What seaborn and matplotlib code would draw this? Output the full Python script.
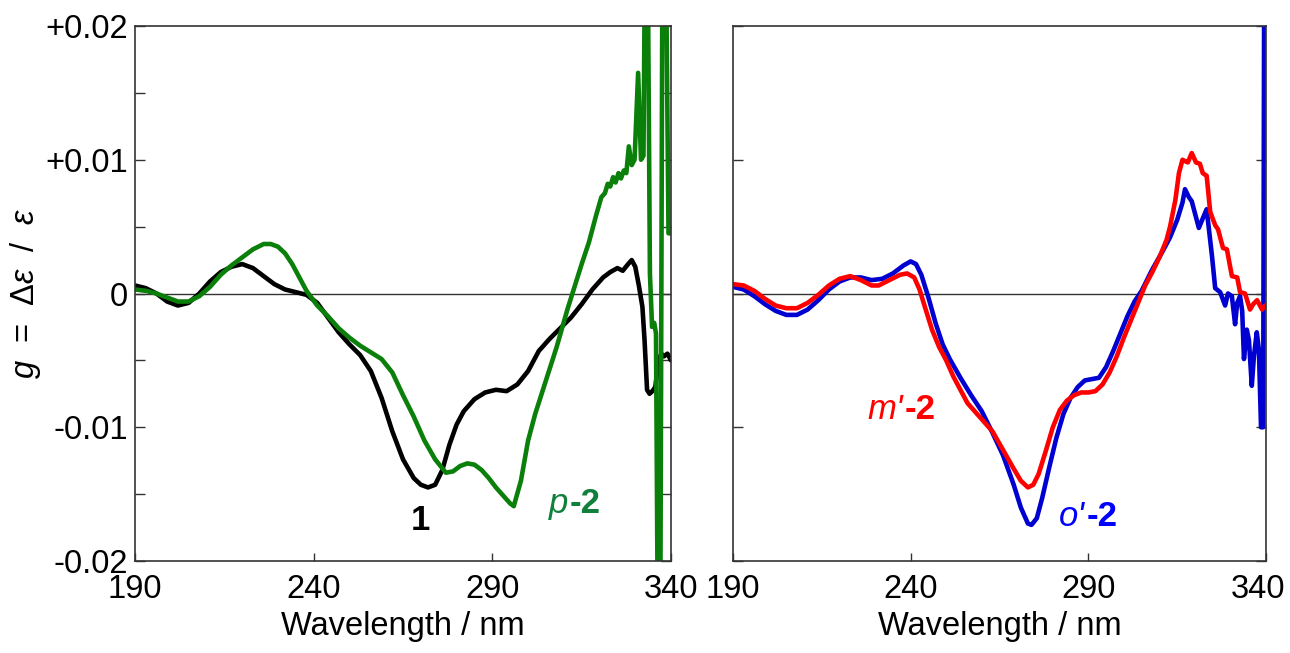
import numpy as np
import pandas as pd
import matplotlib
matplotlib.use("Agg")
import matplotlib.pyplot as plt
import matplotlib.transforms as mtransforms
import seaborn as sns
from matplotlib.offsetbox import TextArea, HPacker, AnnotationBbox

# ---------------- data ----------------
wl_1 = [190, 193, 196, 199, 202, 205, 208, 211, 214, 217, 220, 223, 226, 229, 232, 235, 238,
        241, 244, 247, 250, 253, 256, 259, 262, 265, 268, 270, 272, 274, 276, 278, 280, 282,
        285, 288, 291, 294, 297, 300, 303, 306, 309, 312, 315, 318, 321, 323, 325, 326.5, 328,
        329, 330, 331, 332, 332.6, 333.3, 334, 334.8, 335.6, 336.5, 337.3, 338, 339, 340]
g_1 = [0.0006, 0.0004, 0.0000, -0.0006, -0.0009, -0.0007, 0.0000, 0.0009, 0.0016, 0.0020,
       0.0022, 0.0019, 0.0013, 0.0007, 0.0003, 0.0001, -0.0001, -0.0007, -0.0018, -0.0029,
       -0.0038, -0.0046, -0.0058, -0.0078, -0.0103, -0.0124, -0.0138, -0.0143, -0.0145,
       -0.0143, -0.0132, -0.0113, -0.0098, -0.0088, -0.0079, -0.0074, -0.0072, -0.0073,
       -0.0068, -0.0058, -0.0043, -0.0034, -0.0026, -0.0018, -0.0008, 0.0003, 0.0012,
       0.0016, 0.0019, 0.0017, 0.0022, 0.0025, 0.0020, 0.0006, -0.0010, -0.0035, -0.0072,
       -0.0075, -0.0073, -0.0070, -0.0050, -0.0045, -0.0047, -0.0045, -0.0050]

wl_p2 = [190, 193, 196, 199, 202, 205, 208, 211, 214, 217, 220, 223, 226, 228, 230, 232, 234,
         236, 238, 241, 244, 247, 250, 253, 256, 259, 262, 265, 268, 271, 274, 277, 279, 281,
         283, 285, 287, 289, 291, 293, 295, 296, 298, 300, 302, 305, 308, 311, 313, 315, 317,
         319, 320.5, 321.5, 322.3, 323, 323.8, 324.5, 325.3, 326, 326.8, 327.5, 328.2, 329,
         329.8, 330.8, 331.6, 332.3, 332.7, 333.5, 334.1, 334.7, 335.3, 335.8, 336.3, 337.0,
         337.6, 338.6, 339.3, 340]
g_p2 = [0.0003, 0.0002, 0.0000, -0.0003, -0.0006, -0.0006, -0.0002, 0.0005, 0.0014, 0.0021,
        0.0027, 0.0033, 0.0037, 0.0037, 0.0035, 0.0030, 0.0022, 0.0012, 0.0002, -0.0009,
        -0.0017, -0.0026, -0.0033, -0.0039, -0.0044, -0.0049, -0.0059, -0.0076, -0.0092,
        -0.0110, -0.0124, -0.0134, -0.0133, -0.0129, -0.0127, -0.0128, -0.0132, -0.0138,
        -0.0145, -0.0151, -0.0157, -0.0159, -0.0140, -0.0110, -0.0090, -0.0065, -0.0040,
        -0.0012, 0.0005, 0.0022, 0.0038, 0.0058, 0.0072, 0.0075, 0.0082, 0.0080, 0.0087,
        0.0083, 0.0090, 0.0086, 0.0092, 0.0090, 0.0110, 0.0096, 0.0100, 0.0165, 0.0100,
        0.0103, 0.0250, 0.0250, 0.0015, -0.0025, -0.0022, -0.0030, -0.0250, -0.0250,
        0.0250, 0.0250, 0.0045, 0.0045]

wl_o2 = [190, 193, 196, 199, 202, 205, 208, 211, 214, 217, 220, 223, 226, 229, 232, 235, 238,
         240, 241.5, 243, 245, 247, 249, 251, 254, 257, 260, 263, 266, 269, 271, 273, 274,
         275.5, 277, 279, 281, 283, 285, 287, 289, 291, 293, 295, 297, 299, 301, 303, 305,
         308, 311, 313, 315, 316.5, 317.2, 318.3, 319.1, 321.1, 322.5, 323.3, 324.8, 325.7,
         327.1, 328.5, 329.3, 330.4, 331.3, 331.9, 332.7, 333.3, 333.8, 334.6, 335.2, 336.0,
         336.6, 337.4, 338.0, 338.6, 339.2, 339.5, 339.9]
g_o2 = [0.0005, 0.0003, -0.0002, -0.0008, -0.0013, -0.0016, -0.0016, -0.0012, -0.0005,
        0.0003, 0.0009, 0.0012, 0.0012, 0.0010, 0.0011, 0.0015, 0.0021, 0.0024, 0.0022,
        0.0014, -0.0003, -0.0022, -0.0038, -0.0049, -0.0063, -0.0076, -0.0088, -0.0104,
        -0.0121, -0.0143, -0.0160, -0.0172, -0.0173, -0.0168, -0.0153, -0.0130, -0.0108,
        -0.0090, -0.0078, -0.0070, -0.0065, -0.0064, -0.0063, -0.0055, -0.0043, -0.0030,
        -0.0017, -0.0006, 0.0002, 0.0018, 0.0032, 0.0042, 0.0055, 0.0068, 0.0078, 0.0072,
        0.0069, 0.0049, 0.0058, 0.0063, 0.0028, 0.0004, 0.0001, -0.0009, 0.0000, -0.0002,
        -0.0023, -0.0007, -0.0002, -0.0013, -0.0049, -0.0027, -0.0035, -0.0069, -0.0047,
        -0.0029, -0.0042, -0.0100, -0.0100, 0.0250, 0.0250]

wl_m2 = [190, 193, 196, 199, 202, 205, 208, 211, 214, 217, 220, 223, 226, 229, 231, 234, 237,
         239, 241, 242.5, 244, 246, 248, 250, 252, 254, 256, 258, 260, 263, 266, 269, 271,
         273, 274.5, 276, 278, 280, 282, 284, 286, 288, 290, 292, 294, 296, 298, 300, 302,
         304, 306, 308, 310, 312, 313, 314.5, 315.5, 316.5, 317.2, 318, 319.1, 320.3, 321.4,
         322.2, 323.3, 324.3, 325.7, 326.5, 327.9, 329, 330.4, 331.9, 332.7, 334.1, 335.5,
         336.4, 337.5, 338.9, 339.7]
g_m2 = [0.0007, 0.0006, 0.0002, -0.0004, -0.0009, -0.0011, -0.0011, -0.0007, -0.0001, 0.0006,
        0.0011, 0.0013, 0.0010, 0.0006, 0.0006, 0.0010, 0.0014, 0.0015, 0.0012, 0.0003,
        -0.0010, -0.0027, -0.0040, -0.0050, -0.0062, -0.0072, -0.0082, -0.0088, -0.0094,
        -0.0103, -0.0117, -0.0131, -0.0140, -0.0145, -0.0143, -0.0135, -0.0118, -0.0100,
        -0.0087, -0.0080, -0.0076, -0.0074, -0.0074, -0.0073, -0.0068, -0.0059, -0.0047,
        -0.0033, -0.0020, -0.0007, 0.0006, 0.0016, 0.0027, 0.0040, 0.0050, 0.0070, 0.0090,
        0.0100, 0.0099, 0.0098, 0.0105, 0.0098, 0.0097, 0.0090, 0.0088, 0.0061, 0.0051,
        0.0048, 0.0034, 0.0033, 0.0013, 0.0012, 0.0001, 0.0000, -0.0012, -0.0008, -0.0005,
        -0.0012, -0.0009]

x_ticks = [190, 240, 290, 340]
y_ticks_left = [-0.02, -0.015, -0.01, -0.005, 0, 0.005, 0.01, 0.015, 0.02]
y_ticklabels_left = ["-0.02", "", "-0.01", "", "0", "", "+0.01", "", "+0.02"]
y_ticks_right = [-0.02, -0.01, 0, 0.01, 0.02]

# ---------------- style ----------------
sns.set_style("ticks")
plt.rcParams["font.family"] = ["Liberation Sans", "DejaVu Sans"]
plt.rcParams["text.color"] = "black"
plt.rcParams["axes.labelcolor"] = "black"
plt.rcParams["xtick.color"] = "black"
plt.rcParams["ytick.color"] = "black"
plt.rcParams["mathtext.fontset"] = "custom"
plt.rcParams["mathtext.rm"] = "Liberation Sans"
plt.rcParams["mathtext.it"] = "Liberation Sans:italic"
plt.rcParams["mathtext.bf"] = "Liberation Sans:bold"

FS = 23.5
FS_ANN = 25
SPINE = "#333333"
C_BLACK = "#000000"
C_GREEN = "#0a7f0a"
C_GREEN_T = "#10803c"
C_RED = "#ff0000"
C_BLUE = "#0000d0"
C_BLUE_T = "#0000ff"

fig = plt.figure(figsize=(12.9, 6.53), dpi=100)
ax1 = fig.add_axes([135 / 1290, 92 / 653, 536 / 1290, 535 / 653])
ax2 = fig.add_axes([733 / 1290, 92 / 653, 533 / 1290, 535 / 653])

LW = 3.3
sns.lineplot(x=wl_1, y=g_1, ax=ax1, color=C_BLACK, lw=LW, sort=False, estimator=None)
sns.lineplot(x=wl_p2, y=g_p2, ax=ax1, color=C_GREEN, lw=LW, sort=False, estimator=None)
sns.lineplot(x=wl_o2, y=g_o2, ax=ax2, color=C_BLUE, lw=LW, sort=False, estimator=None)
sns.lineplot(x=wl_m2, y=g_m2, ax=ax2, color=C_RED, lw=LW, sort=False, estimator=None)

for ax in (ax1, ax2):
    ax.axhline(0, color="#333333", lw=1.0, zorder=1)
    ax.set_xlim(190, 340)
    ax.set_ylim(-0.02, 0.02)
    ax.set_xticks(x_ticks)
    ax.set_xticklabels([str(v) for v in x_ticks])
    for s in ax.spines.values():
        s.set_color(SPINE)
        s.set_linewidth(1.2)
    ax.tick_params(axis="x", direction="in", length=6, width=1, color=SPINE,
                   labelcolor="black", labelsize=FS, pad=9, top=False)
    ax.tick_params(axis="y", direction="in", length=7.5, width=1, color=SPINE,
                   labelcolor="black", labelsize=FS, pad=5, left=True, right=True)
    ax.set_xlabel("Wavelength / nm", fontsize=FS, color="black")
    ax.xaxis.set_label_coords(0.5, -0.093)
    ax.xaxis.label.set_va("top")

ax1.set_yticks(y_ticks_left)
ax1.set_yticklabels(y_ticklabels_left)
ax2.set_yticks(y_ticks_right)
ax2.set_yticklabels([""] * len(y_ticks_right))

# keep the right-most "340" inside the canvas
last = ax2.get_xticklabels()[-1]
last.set_transform(last.get_transform() +
                   mtransforms.ScaledTranslation(-6 / 72, 0, fig.dpi_scale_trans))

ax1.set_ylabel(r"$g$  =  $\Delta\varepsilon$  /  $\varepsilon$", fontsize=FS, color="black")
ax1.yaxis.set_label_coords(-0.172, 0.5)


def label(ax, x, y, parts, color):
    boxes = [TextArea(t, textprops=dict(color=color, fontsize=FS_ANN, fontstyle=st,
                                        fontweight=wt, family="Liberation Sans"))
             for t, st, wt in parts]
    pack = HPacker(children=boxes, align="baseline", pad=0, sep=1)
    ab = AnnotationBbox(pack, (x, y), xycoords="data", frameon=False,
                        box_alignment=(0.5, 0.5), pad=0)
    ax.add_artist(ab)


label(ax1, 269.9, -0.0170, [("1", "normal", "bold")], C_BLACK)
label(ax1, 313.0, -0.0157, [("p", "italic", "normal"), ("-2", "normal", "bold")], C_GREEN_T)
label(ax2, 237.5, -0.0087, [("m'", "italic", "normal"), ("-2", "normal", "bold")], C_RED)
label(ax2, 290.0, -0.0167, [("o'", "italic", "normal"), ("-2", "normal", "bold")], C_BLUE_T)

fig.savefig("out.png", dpi=100)
